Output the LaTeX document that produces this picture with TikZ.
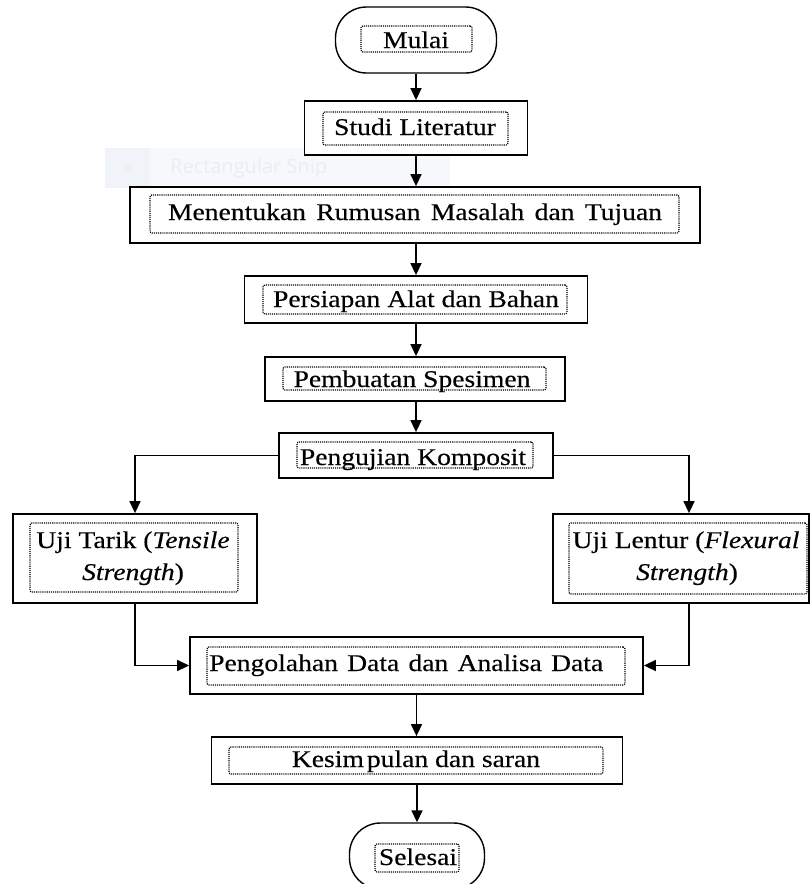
\documentclass[tikz,border=0pt]{standalone}
\usepackage{fontspec}
\setmainfont[FakeStretch=1.15,FakeBold=0.3]{Liberation Serif}
\newfontfamily\uifont{Open Sans}
\usetikzlibrary{arrows.meta}
\definecolor{ghostbg}{RGB}{246,248,252}
\definecolor{ghostsq}{RGB}{240,243,248}
\definecolor{ghosttx}{RGB}{234,237,243}
\begin{document}
\begin{tikzpicture}[x=1pt,y=-1pt,
  box/.style={draw, line width=1.8pt, fill=white, inner sep=0pt},
  term/.style={draw, line width=1.4pt, fill=white, rounded corners=31pt, inner sep=0pt},
  dotbox/.style={draw, dash pattern=on 1.1pt off 1pt, line width=1.2pt, rounded corners=2pt, inner sep=0pt},
  lbl/.style={inner sep=0pt, anchor=base, font=\fontsize{24}{32}\selectfont},
  arr/.style={line width=1.5pt, -{Triangle[length=12pt,width=11pt]}},
  link/.style={line width=1.5pt}]
\useasboundingbox (0,0) rectangle (811,884);
\clip (0,0) rectangle (811,884);
\fill[white] (0,0) rectangle (811,884);

% faint screen-capture overlay
\fill[ghostbg] (105,148) rectangle (450,188);
\fill[ghostsq] (105,148) rectangle (150,188);
\fill[ghosttx] (128,168) circle (4);
\node[font=\uifont\fontsize{20}{24}\selectfont, text=ghosttx, anchor=west, inner sep=0pt] (snip) at (170,168) {Rectangular Snip};

% main boxes
\node[term, minimum width=161pt, minimum height=66pt] (mulai) at (416,40) {};
\node[box, minimum width=223pt, minimum height=54pt] (studi) at (416,128) {};
\node[box, minimum width=570pt, minimum height=56pt] (ment) at (415,215) {};
\node[box, minimum width=343pt, minimum height=47pt] (pers) at (416,299.5) {};
\node[box, minimum width=300pt, minimum height=44pt] (pemb) at (415,379) {};
\node[box, minimum width=274pt, minimum height=45pt] (peng) at (416,455.5) {};
\node[box, minimum width=244pt, minimum height=89pt] (tarik) at (135,558.5) {};
\node[box, minimum width=256pt, minimum height=89pt] (lentur) at (681,558.5) {};
\node[box, minimum width=453pt, minimum height=57pt] (olah) at (416.5,665.5) {};
\node[box, minimum width=411pt, minimum height=47pt] (kesim) at (417,760.5) {};
\node[term, minimum width=135pt, minimum height=66pt] (selesai) at (417,856) {};

% inner dotted frames
\node[dotbox, minimum width=111pt, minimum height=26pt] (mulai-in) at (416.5,39) {};
\node[dotbox, minimum width=185pt, minimum height=33pt] (studi-in) at (415.5,128.5) {};
\node[dotbox, minimum width=529pt, minimum height=38pt] (ment-in) at (414.5,214) {};
\node[dotbox, minimum width=304pt, minimum height=29pt] (pers-in) at (415,299.5) {};
\node[dotbox, minimum width=263pt, minimum height=23pt] (pemb-in) at (414.5,378.5) {};
\node[dotbox, minimum width=236pt, minimum height=26pt] (peng-in) at (415,455) {};
\node[dotbox, minimum width=208pt, minimum height=69pt] (tarik-in) at (134,557.5) {};
\node[dotbox, minimum width=238pt, minimum height=71pt] (lentur-in) at (688,558.5) {};
\node[dotbox, minimum width=418pt, minimum height=38pt] (olah-in) at (416,666) {};
\node[dotbox, minimum width=374pt, minimum height=27pt] (kesim-in) at (416,760.5) {};
\node[dotbox, minimum width=84pt, minimum height=28pt] (selesai-in) at (417,858) {};

% texts
\node[lbl] (mulai-t) at (416,48) {Mulai};
\node[lbl] (studi-t) at (415,135) {Studi Literatur};
\node[lbl] (ment-t) at (415,220) {\makebox[494pt][s]{Menentukan Rumusan Masalah dan Tujuan}};
\node[lbl] (pers-t) at (416,307) {Persiapan Alat dan Bahan};
\node[lbl] (pemb-t) at (412,387) {Pembuatan Spesimen};
\node[lbl] (peng-t) at (413,465) {Pengujian Komposit};
\node[lbl] (tarik-t1) at (133,548) {Uji Tarik (\textit{Tensile}};
\node[lbl] (tarik-t2) at (133,580) {\textit{Strength})};
\node[lbl] (lentur-t1) at (686,548) {Uji Lentur (\textit{Flexural}};
\node[lbl] (lentur-t2) at (687,580) {\textit{Strength})};
\node[lbl, anchor=base west] (olah-t) at (209,671) {\makebox[394pt][s]{Pengolahan Data dan Analisa Data}};
\node[lbl] (kesim-t) at (416,767) {Kesim\kern3pt pulan dan saran};
\node[lbl] (selesai-t) at (418,865) {Selesai};

% connectors
\draw[arr] (mulai.south) -- (mulai.south |- studi.north);
\draw[arr] (studi.south) -- (studi.south |- ment.north);
\draw[arr] (ment.south -| studi.south) -- (studi.south |- pers.north);
\draw[arr] (pers.south) -- (pers.south |- pemb.north);
\draw[arr] (pemb.south -| pers.south) -- (pers.south |- peng.north);
\draw[arr] (peng.west) -| (tarik.north);
\draw[arr] (peng.east) -| ([xshift=8pt]lentur.north);
\draw[arr] (tarik.south) |- (olah.west);
\draw[arr] ([xshift=8pt]lentur.south) |- (olah.east);
\draw[arr] (olah.south) -- (olah.south |- kesim.north);
\draw[arr] (kesim.south) -- (kesim.south |- selesai.north);
\end{tikzpicture}
\end{document}
